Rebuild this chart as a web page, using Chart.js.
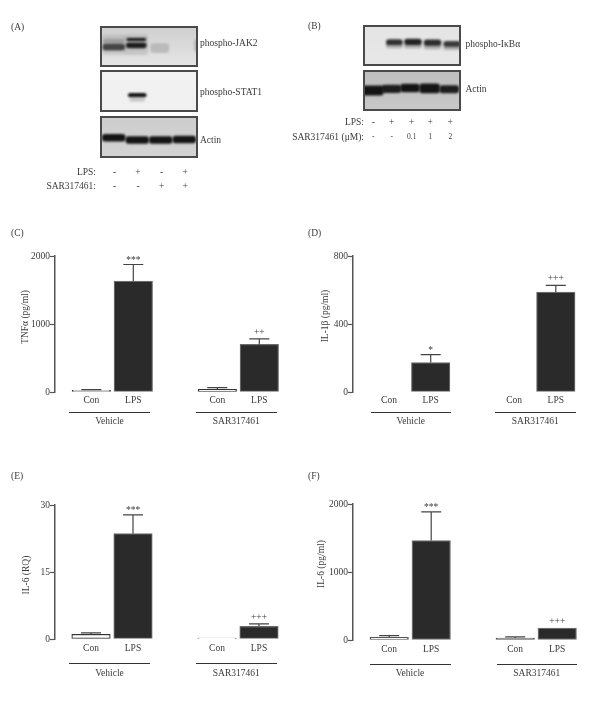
<!DOCTYPE html>
<html><head><meta charset="utf-8">
<script src="https://cdn.jsdelivr.net/npm/chart.js@4"></script>
<style>
html,body{margin:0;padding:0;background:#fff}
#page{position:relative;width:600px;height:710px;overflow:hidden;filter:blur(.4px);font-family:"Liberation Serif",serif;font-size:9.5px;color:#3a3a3a}
#page canvas{position:absolute}
.t{position:absolute;white-space:nowrap;line-height:12px;transform:translateY(-50%)}
.r{transform:translate(-100%,-50%)}
.c{transform:translate(-50%,-50%)}
.v{transform:translate(-50%,-50%) rotate(-90deg)}
.rule{position:absolute;height:1px;background:#333}
</style></head><body><div id="page"></div>
<script>
// ---------- chart data ----------
const categories = ["Con","LPS","Con","LPS"];
const groups = ["Vehicle","SAR317461"];
const tnfValues = [25,1630,40,700];
const tnfErrors = [10,245,25,80];
const tnfMarks = ["","***","","++"];
const il1Values = [0,173,0,588];
const il1Errors = [0,47,0,39];
const il1Marks = ["","*","","+++"];
const il6RqValues = [1.05,23.6,0.2,2.85];
const il6RqErrors = [0.3,4.2,0,0.55];
const il6RqMarks = ["","***","","+++"];
const il6Values = [40,1463,30,177];
const il6Errors = [25,420,15,0];
const il6Marks = ["","***","","+++"];
const tnfTicks = [0,1000,2000];
const il1Ticks = [0,400,800];
const il6RqTicks = [0,15,30];
const il6Ticks = [0,1000,2000];
// bar slots along the x axis (a blank slot separates the two groups)
const slots = [0,1,3,4];

// ---------- blot bands: [lane %, migration %, width %, thickness %, density] ----------
const jak2Bands = [[14,46,24,50,.1],[37,46,24,50,.12],[14,36,22,10,.22],[14,51,23,17,.72],[37,33,20,7,1],[37,47,21,14,.95],[61,54,19,24,.16],[98,48,4,30,.18]];
const stat1Bands = [[38,60,19,10,1],[38,71,16,8,.2]];
const actinABands = [[14,52,24,18,1],[38,57,24,18,1],[62,57,24,18,1],[86,56,24,18,1]];
const ikbBands = [[32,42,17,14,.85],[51,41,18,15,.92],[71,43,18,15,.88],[91,46,18,14,.8],[32,50,17,14,.28],[51,50,18,14,.28],[71,52,18,14,.28],[91,54,18,14,.28]];
const actinBBands = [[10,50,22,24,1],[29,46,20,20,.95],[48,44,20,21,1],[68,45,21,24,1],[88,47,20,20,.95]];

const page = document.getElementById("page");
const INK = "#3a3a3a";

const gelPlugin = {
  id:"gel",
  beforeDatasetsDraw(chart){
    const {ctx,chartArea:a,scales:{x,y}} = chart, o = chart.options.plugins.gel;
    ctx.save();
    const g = ctx.createLinearGradient(0,a.top,0,a.bottom);
    g.addColorStop(0,o.bgTop); g.addColorStop(1,o.bgBottom);
    ctx.fillStyle = g; ctx.fillRect(a.left,a.top,a.width,a.height);
    ctx.beginPath(); ctx.rect(a.left,a.top,a.width,a.height); ctx.clip();
    ctx.filter = "blur(1.2px)";
    chart.data.datasets[0].data.forEach(b=>{
      const cx=x.getPixelForValue(b.x), cy=y.getPixelForValue(b.y);
      const w=Math.abs(x.getPixelForValue(b.w)-x.getPixelForValue(0));
      const h=Math.abs(y.getPixelForValue(b.h)-y.getPixelForValue(0));
      ctx.fillStyle="rgba(20,20,20,"+b.d+")";
      ctx.beginPath(); ctx.roundRect(cx-w/2,cy-h/2,w,h,Math.min(h/2,3)); ctx.fill();
    });
    ctx.restore();
    ctx.strokeStyle="#4a4a4a"; ctx.lineWidth=2;
    ctx.strokeRect(a.left+1,a.top+1,a.width-2,a.height-2);
  }
};
function gel(left,top,w,h,bands,bgTop,bgBottom){
  const c=document.createElement("canvas");
  c.width=w;c.height=h;c.style.left=left+"px";c.style.top=top+"px";
  c.style.width=w+"px";c.style.height=h+"px";
  page.appendChild(c);
  new Chart(c,{type:"scatter",
    data:{datasets:[{data:bands.map(b=>({x:b[0],y:b[1],w:b[2],h:b[3],d:b[4]})),pointRadius:0}]},
    plugins:[gelPlugin],
    options:{responsive:false,animation:false,devicePixelRatio:1,
      layout:{autoPadding:false,padding:0},
      plugins:{legend:{display:false},tooltip:{enabled:false},gel:{bgTop,bgBottom}},
      scales:{x:{display:false,min:0,max:100},y:{display:false,min:0,max:100,reverse:true}}}});
}

const errorPlugin = {
  id:"errs",
  afterDatasetsDraw(chart){
    const {ctx,scales:{x,y}} = chart, o = chart.options.plugins.errs;
    ctx.save();
    ctx.strokeStyle="#444"; ctx.lineWidth=1.2; ctx.fillStyle=INK;
    ctx.font='9.5px "Liberation Serif"'; ctx.textAlign="center"; ctx.textBaseline="middle";
    slots.forEach((s,i)=>{
      const px=x.getPixelForValue(s), y0=y.getPixelForValue(o.values[i]), y1=y.getPixelForValue(o.values[i]+o.errors[i]);
      if(o.errors[i]>0){
        ctx.beginPath();ctx.moveTo(px,y0);ctx.lineTo(px,y1);
        ctx.moveTo(px-10,y1);ctx.lineTo(px+10,y1);ctx.stroke();
      }
      if(o.marks[i]) ctx.fillText(o.marks[i],px,y1-(o.marks[i][0]==="+"?6.5:4));
    });
    ctx.restore();
  }
};

function barPanel(p){
  const pad=8, axisW=40, footH=20, areaW=240, areaH=p.bottom-p.top;
  const c=document.createElement("canvas");
  const W=axisW+areaW, H=pad+areaH+footH;
  c.width=W;c.height=H;
  c.style.left=(p.axis-axisW)+"px";c.style.top=(p.top-pad)+"px";
  c.style.width=W+"px";c.style.height=H+"px";
  page.appendChild(c);
  const xMin=-(p.first-p.axis)/p.step;
  new Chart(c,{type:"bar",
    data:{datasets:[{
      data:p.values.map((v,i)=>({x:slots[i],y:v})),
      backgroundColor:p.fills,
      borderColor:p.edges,
      borderWidth:p.edgeW,
      borderSkipped:false,
      barThickness:38.5,
      grouped:false}]},
    plugins:[errorPlugin],
    options:{responsive:false,animation:false,devicePixelRatio:1,
      layout:{autoPadding:false,padding:{top:pad,left:0,right:0,bottom:0}},
      plugins:{legend:{display:false},tooltip:{enabled:false},errs:{values:p.values,errors:p.errors,marks:p.marks}},
      scales:{
        x:{type:"linear",min:xMin,max:xMin+areaW/p.step,offset:false,
          border:{display:false},grid:{display:false,drawTicks:false,tickLength:0},
          afterBuildTicks(s){s.ticks=slots.map(v=>({value:v}));},
          afterFit(s){s.height=footH;},
          ticks:{autoSkip:false,maxRotation:0,padding:p.xPad,color:INK,font:{family:"Liberation Serif",size:9.5},
            callback(v){return categories[slots.indexOf(v)];}}},
        y:{min:p.ticks[0],max:p.ticks[p.ticks.length-1],
          border:{display:true,color:"#555",width:1.5},
          grid:{drawOnChartArea:false,drawTicks:true,tickLength:5,tickColor:"#555",tickWidth:1.2},
          afterBuildTicks(s){s.ticks=p.ticks.map(v=>({value:v}));},
          afterFit(s){s.width=axisW;},
          ticks:{padding:0,color:INK,font:{family:"Liberation Serif",size:9.5},callback(v){return String(v);}}}
      }}});
}

const dark="#2a2a2a", rim="#6a6a6a";
const barFills=["#fff",dark,"#fff",dark], barEdges=["#333",rim,"#333",rim];

gel(100,26,98,41,jak2Bands,"#cfcfcf","#e6e6e6");
gel(100,70,98,42,stat1Bands,"#f2f2f2","#f0f0f0");
gel(100,116,98,42,actinABands,"#cdcdcd","#d4d4d4");
gel(363,25,98,41,ikbBands,"#e4e4e4","#e8e8e8");
gel(363,70,98,41,actinBBands,"#bebebe","#c8c8c8");

barPanel({axis:55,top:256,bottom:392,first:91.3,step:42,xPad:3,values:tnfValues,errors:tnfErrors,marks:tnfMarks,ticks:tnfTicks,fills:barFills,edges:barEdges,edgeW:1.2});
barPanel({axis:353,top:256,bottom:392,first:389,step:41.7,xPad:3,values:il1Values,errors:il1Errors,marks:il1Marks,ticks:il1Ticks,fills:barFills,edges:barEdges,edgeW:1.2});
barPanel({axis:55,top:505,bottom:639,first:91,step:42,xPad:4,values:il6RqValues,errors:il6RqErrors,marks:il6RqMarks,ticks:il6RqTicks,fills:barFills,edges:barEdges,edgeW:1.2});
barPanel({axis:353,top:504,bottom:640,first:389.2,step:42,xPad:4,values:il6Values,errors:il6Errors,marks:il6Marks,ticks:il6Ticks,fills:["#fff",dark,"#888",dark],edges:["#555",rim,"#555",rim],edgeW:1.4});

function text(s,x,y,cls,extra){
  const d=document.createElement("div");
  d.className="t "+(cls||"");d.textContent=s;d.style.left=x+"px";d.style.top=y+"px";
  if(extra)Object.assign(d.style,extra);
  page.appendChild(d);
}
function rule(x1,x2,y){
  const d=document.createElement("div");
  d.className="rule";d.style.left=x1+"px";d.style.width=(x2-x1)+"px";d.style.top=y+"px";
  page.appendChild(d);
}
// panel letters
[["(A)",11,27],["(B)",308,26],["(C)",11,233],["(D)",308,233],["(E)",11,476],["(F)",308,476]].forEach(a=>text(a[0],a[1],a[2]));
// blot names
[["phospho-JAK2",200,43],["phospho-STAT1",200,91.5],["Actin",200,140],["phospho-IκBα",465.5,43.5],["Actin",465.5,88.5]].forEach(a=>text(a[0],a[1],a[2]));
// treatment rows
text("LPS:",96,171.5,"r");text("SAR317461:",96,185.5,"r");
const colsA=[114.7,138,161.7,185.3];
["-","+","-","+"].forEach((s,i)=>text(s,colsA[i],171.5,"c"));
["-","-","+","+"].forEach((s,i)=>text(s,colsA[i],185.5,"c"));
text("LPS:",364,122,"r");text("SAR317461 (μM):",364,136.5,"r");
const colsB=[373.3,391.7,411.7,430.3,450.3];
["-","+","+","+","+"].forEach((s,i)=>text(s,colsB[i],122,"c"));
["-","-","0.1","1","2"].forEach((s,i)=>text(s,colsB[i],136.5,"c",{fontSize:"7.5px"}));
// axis titles
[["TNFα (pg/ml)",24.5,317],["IL-1β (pg/ml)",325,316],["IL-6 (RQ)",25.5,575],["IL-6 (pg/ml)",320.5,564]].forEach(a=>text(a[0],a[1],a[2],"v"));
// group rules and names
[[69,150,196,276.5,412,421],[370.5,451,495,575.5,412,421],[69,150,196,276.5,662.5,672.5],[369.5,450.5,496.5,577,663.5,672.5]].forEach(g=>{
  rule(g[0],g[1],g[4]);rule(g[2],g[3],g[4]);
  text(groups[0],(g[0]+g[1])/2,g[5],"c");text(groups[1],(g[2]+g[3])/2,g[5],"c");
});
</script></body></html>
